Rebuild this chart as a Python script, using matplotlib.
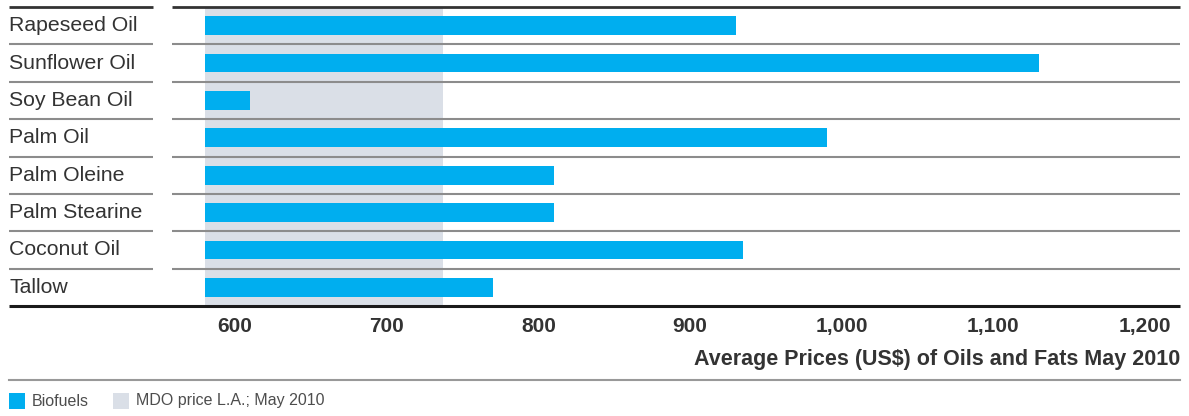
import matplotlib
matplotlib.use("Agg")
import matplotlib.pyplot as plt
import matplotlib.transforms as mtransforms
from matplotlib.patches import Rectangle
from matplotlib.lines import Line2D
import numpy as np

# data
oils = ["Rapeseed Oil", "Sunflower Oil", "Soy Bean Oil", "Palm Oil",
        "Palm Oleine", "Palm Stearine", "Coconut Oil", "Tallow"]
prices = [930, 1130, 610, 990, 810, 810, 935, 770]
baseline = 580
mdo_price = 737
ticks = [600, 700, 800, 900, 1000, 1100, 1200]

BLUE = "#00AEEF"
SHADE = "#DADFE7"
W, H = 1189, 416

plt.rcParams['font.family'] = ['Liberation Sans', 'DejaVu Sans']

fig = plt.figure(figsize=(W / 100, H / 100), dpi=100)
ax = fig.add_axes([172 / W, (H - 306) / H, (1180 - 172) / W, (306 - 7) / H])

y = np.arange(len(oils))
ax.axvspan(baseline, mdo_price, color=SHADE, lw=0, zorder=0)
ax.barh(y, np.array(prices) - baseline, left=baseline, height=0.5,
        color=BLUE, zorder=2)

ax.set_xlim(558.5, 1223)
ax.set_ylim(len(oils) - 0.5, -0.5)
for s in ax.spines.values():
    s.set_visible(False)
ax.set_yticks([])
ax.set_xticks(ticks)
ax.set_xticklabels([f"{t:,}" for t in ticks], fontsize=15, color="#333333",
                   fontweight='bold')
ax.tick_params(axis='x', length=0, pad=8)

# row lines, both in the label column and the plot area
tr = mtransforms.blended_transform_factory(fig.transFigure, ax.transData)
for i in range(len(oils) + 1):
    yy = i - 0.5
    if i == 0:
        c, lw = "#333333", 2
    elif i == len(oils):
        c, lw = "#1a1a1a", 2.2
    else:
        c, lw = "#8c8c8c", 1.5
    if i == len(oils):
        ax.plot([9 / W, 1180 / W], [yy, yy], transform=tr, color=c, lw=lw,
                clip_on=False, zorder=3, solid_capstyle='butt')
    else:
        ax.plot([9 / W, 153 / W], [yy, yy], transform=tr, color=c, lw=lw,
                clip_on=False, zorder=3, solid_capstyle='butt')
        ax.plot([172 / W, 1180 / W], [yy, yy], transform=tr, color=c, lw=lw,
                clip_on=False, zorder=3, solid_capstyle='butt')

for i, name in enumerate(oils):
    ax.text(9 / W, i, name, transform=tr, ha='left', va='center',
            fontsize=15.3, color="#333333")

fig.text(1180 / W, 1 - 359 / H, "Average Prices (US$) of Oils and Fats May 2010",
         ha='right', va='center', fontsize=15.5, color="#333333",
         fontweight='bold')
fig.add_artist(Line2D([9 / W, 1180 / W], [1 - 380 / H, 1 - 380 / H],
                      color="#999999", lw=1.5))

# legend
fig.add_artist(Rectangle((9 / W, 1 - 409 / H), 16 / W, 16 / H,
                         transform=fig.transFigure, color=BLUE, lw=0))
fig.text(32 / W, 1 - 401 / H, "Biofuels", ha='left', va='center',
         fontsize=11.5, color="#4d4d4d")
fig.add_artist(Rectangle((113 / W, 1 - 409 / H), 16 / W, 16 / H,
                         transform=fig.transFigure, color=SHADE, lw=0))
fig.text(136 / W, 1 - 401 / H, "MDO price L.A.; May 2010", ha='left',
         va='center', fontsize=11.5, color="#4d4d4d")

fig.savefig("out.png", dpi=100)
